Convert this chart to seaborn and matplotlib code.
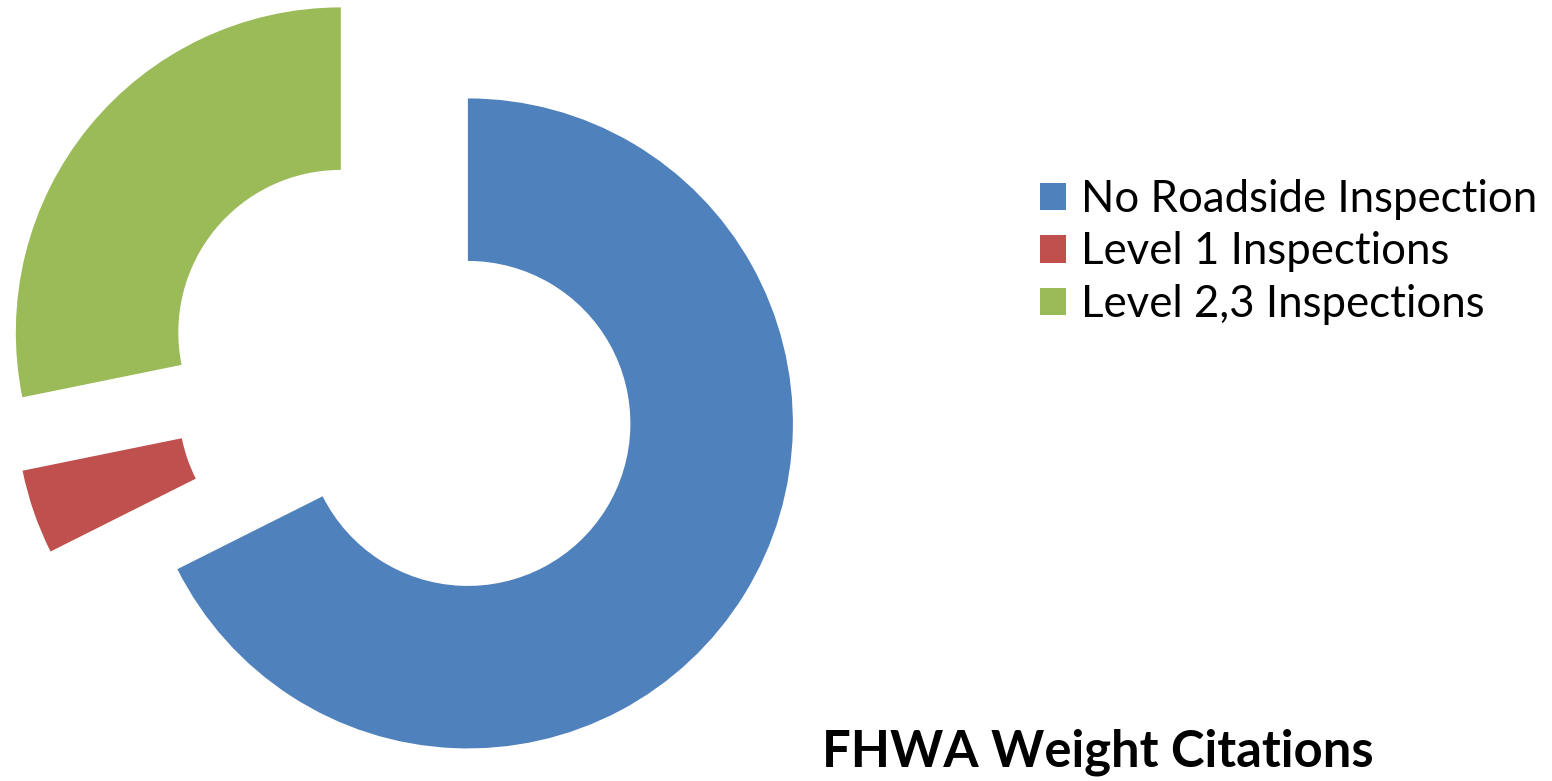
import matplotlib
matplotlib.use("Agg")
import matplotlib.pyplot as plt
import seaborn as sns
from matplotlib.patches import Patch

# Share of FHWA weight citations (percent) by inspection type
categories = ["No Roadside Inspection", "Level 1 Inspections", "Level 2,3 Inspections"]
shares = [67.6, 4.2, 28.2]
colors = ["#4F81BD", "#C0504D", "#9BBB59"]
title = "FHWA Weight Citations"

sns.set_theme(style="white")
plt.rcParams["font.family"] = ["Lato", "DejaVu Sans"]
plt.rcParams["text.color"] = "black"
palette = sns.color_palette(colors)

W_PX, H_PX = 1552, 781
fig = plt.figure(figsize=(W_PX / 100, H_PX / 100), dpi=100)
ax = fig.add_axes([0, 0, 1, 1])

# ring geometry in pixels (outer radius, centre of the ring)
R_PX = 325.0
CX_PX, CY_PX = 404.0, 384.0
explode = [0.231, 0.205, 0.251]

wedges, _ = ax.pie(
    shares,
    colors=palette,
    startangle=90,
    counterclock=False,
    radius=1.0,
    explode=explode,
    wedgeprops=dict(width=0.5, linewidth=0, antialiased=True),
)

ax.set_xlim(-CX_PX / R_PX, (W_PX - CX_PX) / R_PX)
ax.set_ylim(-(H_PX - CY_PX) / R_PX, CY_PX / R_PX)
ax.set_aspect("equal")
ax.axis("off")

handles = [Patch(facecolor=c, edgecolor="none") for c in palette]
fs = 31.5
fs_px = fs * 100 / 72
leg = fig.legend(
    handles, categories,
    loc="upper left",
    bbox_to_anchor=(1040 / W_PX, 1 - 179 / H_PX),
    frameon=False,
    fontsize=fs,
    handlelength=26 / fs_px,
    handleheight=26 / fs_px,
    handletextpad=15 / fs_px,
    labelspacing=0.26,
    borderpad=0,
    borderaxespad=0,
)
for t in leg.get_texts():
    t.set_color("black")

fig.text(822 / W_PX, (H_PX - 767) / H_PX, title,
         fontsize=36.5, fontweight="bold", ha="left", va="baseline", color="black")

fig.savefig("out.png", dpi=100, facecolor="white")
